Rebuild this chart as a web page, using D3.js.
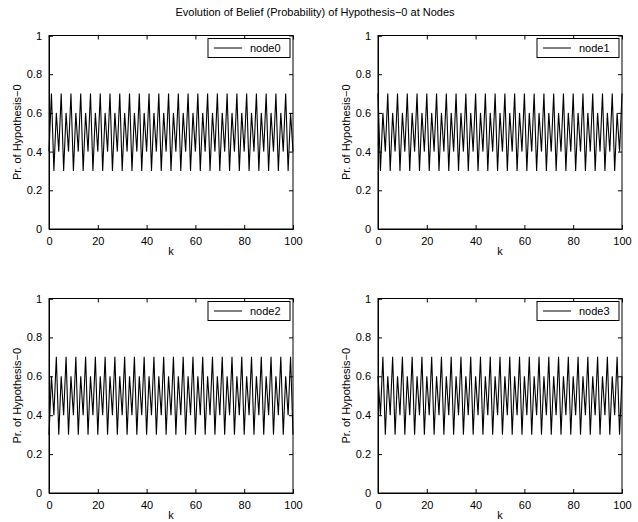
<!DOCTYPE html>
<html>
<head>
<meta charset="utf-8">
<script src="https://cdn.jsdelivr.net/npm/d3@7"></script>
<style>
  html, body { margin: 0; padding: 0; background: #fff; }
  svg { display: block; }
  text { font-family: "Liberation Sans", Arial, Helvetica, sans-serif; fill: #000; }
</style>
</head>
<body>
<svg id="chart" width="638" height="522"></svg>
<script>
// ---------- data ----------
const chartTitle = "Evolution of Belief (Probability) of Hypothesis\u22120 at Nodes";
const nodeNames = ["node0", "node1", "node2", "node3"];
const xLabel = "k";
const yLabel = "Pr. of Hypothesis\u22120";
const xTicks = [0, 20, 40, 60, 80, 100];
const yTicks = [0, 0.2, 0.4, 0.6, 0.8, 1];

const node0 = [
  0.4,0.7,0.3,0.6, 0.4,0.7,0.3,0.6, 0.4,0.7,0.3,0.6, 0.4,0.7,0.3,0.6, 0.4,0.7,0.3,0.6,
  0.4,0.7,0.3,0.6, 0.4,0.7,0.3,0.6, 0.4,0.7,0.3,0.6, 0.4,0.7,0.3,0.6, 0.4,0.7,0.3,0.6,
  0.4,0.7,0.3,0.6, 0.4,0.7,0.3,0.6, 0.4,0.7,0.3,0.6, 0.4,0.7,0.3,0.6, 0.4,0.7,0.3,0.6,
  0.4,0.7,0.3,0.6, 0.4,0.7,0.3,0.6, 0.4,0.7,0.3,0.6, 0.4,0.7,0.3,0.6, 0.4,0.7,0.3,0.6,
  0.4,0.7,0.3,0.6, 0.4,0.7,0.3,0.6, 0.4,0.7,0.3,0.6, 0.4,0.7,0.3,0.6, 0.4,0.7,0.3,0.6,
  0.4
];
const node1 = [
  0.7,0.3,0.6,0.4, 0.7,0.3,0.6,0.4, 0.7,0.3,0.6,0.4, 0.7,0.3,0.6,0.4, 0.7,0.3,0.6,0.4,
  0.7,0.3,0.6,0.4, 0.7,0.3,0.6,0.4, 0.7,0.3,0.6,0.4, 0.7,0.3,0.6,0.4, 0.7,0.3,0.6,0.4,
  0.7,0.3,0.6,0.4, 0.7,0.3,0.6,0.4, 0.7,0.3,0.6,0.4, 0.7,0.3,0.6,0.4, 0.7,0.3,0.6,0.4,
  0.7,0.3,0.6,0.4, 0.7,0.3,0.6,0.4, 0.7,0.3,0.6,0.4, 0.7,0.3,0.6,0.4, 0.7,0.3,0.6,0.4,
  0.7,0.3,0.6,0.4, 0.7,0.3,0.6,0.4, 0.7,0.3,0.6,0.4, 0.7,0.3,0.6,0.4, 0.7,0.3,0.6,0.4,
  0.7
];
const node2 = [
  0.3,0.6,0.4,0.7, 0.3,0.6,0.4,0.7, 0.3,0.6,0.4,0.7, 0.3,0.6,0.4,0.7, 0.3,0.6,0.4,0.7,
  0.3,0.6,0.4,0.7, 0.3,0.6,0.4,0.7, 0.3,0.6,0.4,0.7, 0.3,0.6,0.4,0.7, 0.3,0.6,0.4,0.7,
  0.3,0.6,0.4,0.7, 0.3,0.6,0.4,0.7, 0.3,0.6,0.4,0.7, 0.3,0.6,0.4,0.7, 0.3,0.6,0.4,0.7,
  0.3,0.6,0.4,0.7, 0.3,0.6,0.4,0.7, 0.3,0.6,0.4,0.7, 0.3,0.6,0.4,0.7, 0.3,0.6,0.4,0.7,
  0.3,0.6,0.4,0.7, 0.3,0.6,0.4,0.7, 0.3,0.6,0.4,0.7, 0.3,0.6,0.4,0.7, 0.3,0.6,0.4,0.7,
  0.3
];
const node3 = [
  0.6,0.4,0.7,0.3, 0.6,0.4,0.7,0.3, 0.6,0.4,0.7,0.3, 0.6,0.4,0.7,0.3, 0.6,0.4,0.7,0.3,
  0.6,0.4,0.7,0.3, 0.6,0.4,0.7,0.3, 0.6,0.4,0.7,0.3, 0.6,0.4,0.7,0.3, 0.6,0.4,0.7,0.3,
  0.6,0.4,0.7,0.3, 0.6,0.4,0.7,0.3, 0.6,0.4,0.7,0.3, 0.6,0.4,0.7,0.3, 0.6,0.4,0.7,0.3,
  0.6,0.4,0.7,0.3, 0.6,0.4,0.7,0.3, 0.6,0.4,0.7,0.3, 0.6,0.4,0.7,0.3, 0.6,0.4,0.7,0.3,
  0.6,0.4,0.7,0.3, 0.6,0.4,0.7,0.3, 0.6,0.4,0.7,0.3, 0.6,0.4,0.7,0.3, 0.6,0.4,0.7,0.3,
  0.6
];
const seriesList = [node0, node1, node2, node3];

// ---------- layout ----------
const svg = d3.select("#chart");
const panelX = [[49, 293], [378, 622]];
const panelY = [[35.5, 229], [298.5, 493]];

svg.append("text")
  .attr("x", 315).attr("y", 16)
  .attr("text-anchor", "middle")
  .attr("font-size", 11)
  .text(chartTitle);

seriesList.forEach((vals, i) => {
  const col = i % 2, row = Math.floor(i / 2);
  const [x0, x1] = panelX[col];
  const [y0, y1] = panelY[row];
  const x = d3.scaleLinear().domain([0, 100]).range([x0, x1]);
  const y = d3.scaleLinear().domain([0, 1]).range([y1, y0]);
  const g = svg.append("g");

  // line
  const line = d3.line().x((d, k) => x(k)).y(d => y(d));
  g.append("path").datum(vals)
    .attr("d", line)
    .attr("fill", "none")
    .attr("stroke", "#000")
    .attr("stroke-width", 1.1);

  // axes (inward ticks, boxed)
  const tl = 4;
  const bottom = g.append("g").attr("transform", `translate(0,${y1})`)
    .call(d3.axisBottom(x).tickValues(xTicks).tickSize(-tl).tickPadding(4 + tl).tickFormat(d3.format("d")));
  const top = g.append("g").attr("transform", `translate(0,${y0})`)
    .call(d3.axisTop(x).tickValues(xTicks).tickSize(-tl).tickFormat(""));
  const left = g.append("g").attr("transform", `translate(${x0},0)`)
    .call(d3.axisLeft(y).tickValues(yTicks).tickSize(-tl).tickPadding(3 + tl).tickFormat(d => d === 0 || d === 1 ? d3.format("d")(d) : d3.format(".1f")(d)));
  const right = g.append("g").attr("transform", `translate(${x1},0)`)
    .call(d3.axisRight(y).tickValues(yTicks).tickSize(-tl).tickFormat(""));
  [bottom, top, left, right].forEach(a => {
    a.select(".domain").attr("stroke", "#000").attr("stroke-width", 1);
    a.selectAll(".tick line").attr("stroke", "#000");
    a.selectAll("text").attr("font-size", 11).attr("font-family", "Liberation Sans, Arial, sans-serif").attr("fill", "#000");
  });
  [top, right].forEach(a => a.select(".domain").remove());
  g.append("rect").attr("x", x0).attr("y", y0).attr("width", x1 - x0).attr("height", y1 - y0)
    .attr("fill", "none").attr("stroke", "#000").attr("stroke-width", 1);

  // labels
  g.append("text")
    .attr("x", (x0 + x1) / 2).attr("y", y1 + 26)
    .attr("text-anchor", "middle").attr("font-size", 11)
    .text(xLabel);
  g.append("text")
    .attr("transform", `translate(${x0 - 28},${(y0 + y1) / 2}) rotate(-90)`)
    .attr("text-anchor", "middle").attr("font-size", 11)
    .text(yLabel);

  // legend
  const lw = 82, lh = 19;
  const lx = x1 - lw - 3, ly = y0 + 3;
  g.append("rect").attr("x", lx).attr("y", ly).attr("width", lw).attr("height", lh)
    .attr("fill", "#fff").attr("stroke", "#000").attr("stroke-width", 1);
  g.append("line").attr("x1", lx + 6).attr("x2", lx + 34)
    .attr("y1", ly + lh / 2).attr("y2", ly + lh / 2)
    .attr("stroke", "#000").attr("stroke-width", 1);
  g.append("text").attr("x", lx + 42).attr("y", ly + lh / 2 + 4)
    .attr("font-size", 11).text(nodeNames[i]);
});
</script>
</body>
</html>
